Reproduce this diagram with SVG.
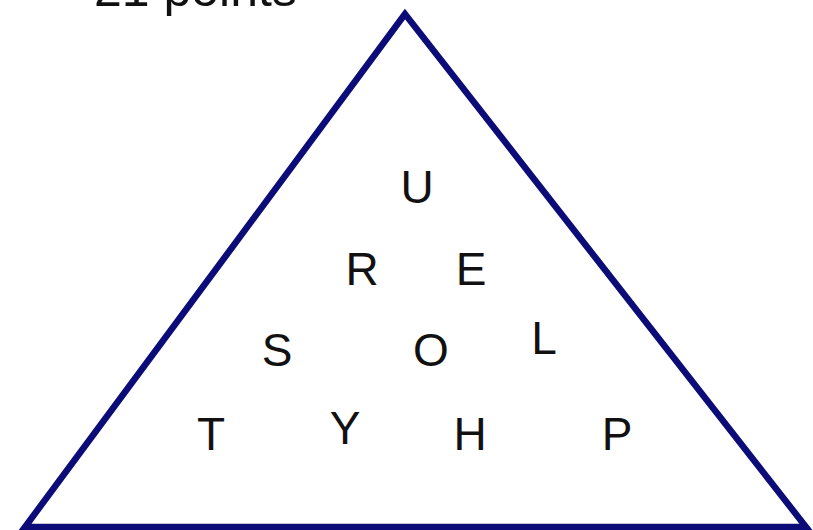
<svg xmlns="http://www.w3.org/2000/svg" width="813" height="530" viewBox="0 0 813 530">
<style>
.t{font-family:"Liberation Sans",Arial,sans-serif;font-size:46px;fill:#111;text-anchor:middle}
.h{font-family:"Liberation Sans",Arial,sans-serif;font-size:50px;fill:#111}
</style>
<rect width="813" height="530" fill="#fff"/>
<g id="title"><text class="h" x="94" y="6">21 points</text></g>
<g id="triangle"><polygon points="405,14 25,527 806,527" fill="none" stroke="#0c0c78" stroke-width="6.5" stroke-linejoin="miter"/></g>
<g id="letters">
<text class="t" x="417" y="203">U</text>
<text class="t" x="362" y="285">R</text>
<text class="t" x="471" y="285">E</text>
<text class="t" x="277" y="366">S</text>
<text class="t" x="431" y="366">O</text>
<text class="t" x="544" y="354">L</text>
<text class="t" x="211" y="450">T</text>
<text class="t" x="345" y="444">Y</text>
<text class="t" x="470" y="450">H</text>
<text class="t" x="617" y="450">P</text>
</g>
</svg>
